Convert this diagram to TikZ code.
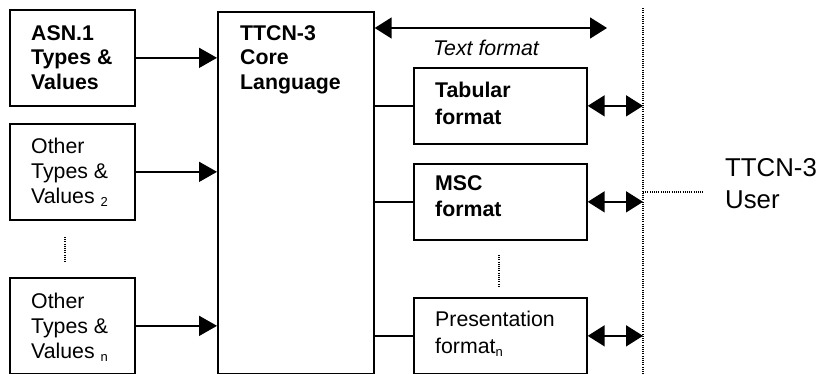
\documentclass[tikz,border=0pt]{standalone}
\usepackage{fontspec}
\setmainfont{Liberation Sans}
\usetikzlibrary{arrows.meta}

% small lowered index after a word
\newcommand\lowidx[1]{\raisebox{-3pt}{\fontsize{13}{13}\selectfont #1}}

\tikzset{
  box/.style={draw, line width=1.7pt, inner sep=0pt, anchor=north west},
  txt/.style={inner sep=0pt, anchor=north west, align=left,
              font=\fontsize{21.3}{24.8}\selectfont},
  fmttxt/.style={txt, font=\fontsize{21.3}{26.5}\selectfont},
  arr/.style={line width=1.7pt, -{Triangle[length=18pt,width=20pt]}},
  dbl/.style={line width=1.7pt, {Triangle[length=17pt,width=21pt]}-{Triangle[length=17pt,width=21pt]}},
  link/.style={line width=1.5pt},
  dots/.style={line width=1.3pt, dash pattern=on 1pt off 1.2pt},
}

\begin{document}
\begin{tikzpicture}[x=1pt,y=-1pt]
  \useasboundingbox (0,0) rectangle (819,374);

  % input boxes on the left
  \node[box, minimum width=125pt, minimum height=96pt] (asn) at (9,9) {};
  \node[box, minimum width=125pt, minimum height=96pt] (oth2) at (9,123) {};
  \node[box, minimum width=125pt, minimum height=96pt] (othn) at (9,277) {};

  % core language block
  \node[box, minimum width=156pt, minimum height=362pt] (core) at (217,11) {};

  % presentation formats
  \node[box, minimum width=173pt, minimum height=76pt] (tab) at (413,67) {};
  \node[box, minimum width=173pt, minimum height=76pt] (msc) at (413,163) {};
  \node[box, minimum width=173pt, minimum height=76pt] (pres) at (413,297) {};

  % box texts
  \node[txt, font=\fontsize{21.3}{24.8}\selectfont\bfseries] (asnT) at ([xshift=22pt,yshift=-16pt]asn.north west)
    {ASN.1\\Types \&\\Values};
  \node[txt] (oth2T) at ([xshift=22pt,yshift=-15pt]oth2.north west)
    {Other\\Types \&\\Values \lowidx{2}};
  \node[txt] (othnT) at ([xshift=22pt,yshift=-16pt]othn.north west)
    {Other\\Types \&\\Values \lowidx{n}};
  \node[txt, font=\fontsize{21.3}{24.8}\selectfont\bfseries] (coreT) at ([xshift=23pt,yshift=-14pt]core.north west)
    {TTCN-3\\Core\\Language};
  \node[fmttxt, font=\fontsize{21.3}{26.5}\selectfont\bfseries] (tabT) at ([xshift=22pt,yshift=-15pt]tab.north west)
    {Tabular\\format};
  \node[fmttxt, font=\fontsize{21.3}{26.5}\selectfont\bfseries] (mscT) at ([xshift=22pt,yshift=-12pt]msc.north west)
    {MSC\\format};
  \node[fmttxt] (presT) at ([xshift=22pt,yshift=-14pt]pres.north west)
    {Presentation\\format\lowidx{n}};

  % inputs into the core
  \draw[arr] (asn.east) -- (asn.east -| core.west);
  \draw[arr] (oth2.east) -- (oth2.east -| core.west);
  \draw[arr] (othn.east) -- (othn.east -| core.west);

  % core to the formats
  \draw[link] (tab.west -| core.east) -- (tab.west);
  \draw[link] (msc.west -| core.east) -- (msc.west);
  \draw[link] (pres.west -| core.east) -- (pres.west);

  % user boundary
  \coordinate (utop) at (643,8);
  \coordinate (ubot) at (643,374);
  \draw[dots] (utop) -- (ubot);
  \coordinate (uline) at (704,192);
  \draw[dots] (uline -| utop) -- (uline);
  \node[inner sep=0pt, anchor=north west, align=left,
        font=\fontsize{25.8}{32.5}\selectfont] (user) at (725,158) {TTCN-3\\User};

  % text format exchange
  \coordinate (txtend) at (607,28);
  \draw[dbl] (txtend -| core.east) -- (txtend);
  \node[inner sep=0pt, font=\fontsize{21.3}{24}\selectfont\itshape] (txtfmt) at (486,48) {Text format};

  % format boxes to user
  \draw[dbl] (tab.east) -- (tab.east -| utop);
  \draw[dbl] (msc.east) -- (msc.east -| utop);
  \draw[dbl] (pres.east) -- (pres.east -| utop);

  % ellipsis marks
  \coordinate (e1a) at (65,237);
  \coordinate (e1b) at (65,263);
  \draw[dots] (e1a) -- (e1b);
  \coordinate (e2a) at (499,255);
  \coordinate (e2b) at (499,286);
  \draw[dots] (e2a) -- (e2b);
\end{tikzpicture}
\end{document}
